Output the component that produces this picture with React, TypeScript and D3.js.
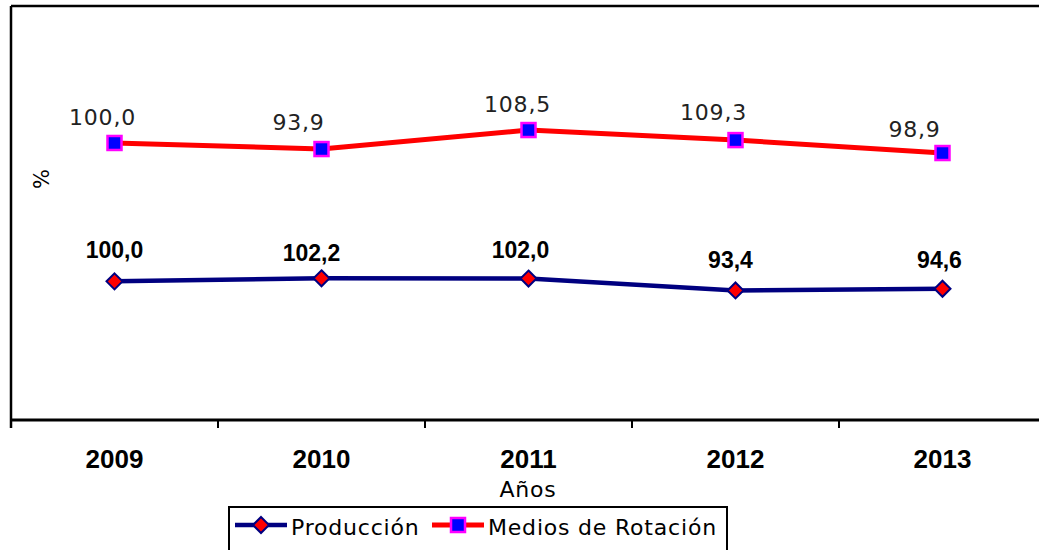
import React from "react";
import * as d3 from "d3";

const years = ["2009", "2010", "2011", "2012", "2013"];
const produccion = [100.0, 102.2, 102.0, 93.4, 94.6];
const medios = [100.0, 93.9, 108.5, 109.3, 98.9];
// the red series sits higher in the picture than its labels say; these are the heights it is drawn at
const mediosPlot = [200.5, 196.1, 209.9, 202.6, 193.2];

// hand nudges of the data labels, as in the original
const prodDx = [0, -10, -8, -5, -3];
const prodDy = [-23, -17, -21, -22, -21];
const medDx = [-12, -23, -11, -22, -28];
const medDy = [-18, -19, -18, -20, -16];

const fmt = (v: number) => v.toFixed(1).replace(".", ",");

const W = 1039;
const H = 550;
const SANS = "'DejaVu Sans', Verdana, sans-serif";
const ARIAL = "'Liberation Sans', Arial, sans-serif";

const Diamond = ({ cx, cy, r = 8 }: { cx: number; cy: number; r?: number }) => (
  <path
    d={`M${cx},${cy - r}L${cx + r},${cy}L${cx},${cy + r}L${cx - r},${cy}Z`}
    fill="#ff0000"
    stroke="#000080"
    strokeWidth={2}
  />
);

const Square = ({ cx, cy, s = 14 }: { cx: number; cy: number; s?: number }) => (
  <rect x={cx - s / 2} y={cy - s / 2} width={s} height={s} fill="#0000ff" stroke="#ff00ff" strokeWidth={2.5} />
);

const App = (): React.JSX.Element => {
  const left = 11;
  const top = 6;
  const bottom = 420;
  const x = d3.scaleBand<string>(years, [left, left + 5 * 207]).padding(0);
  const cx = (d: string) => (x(d) as number) + x.bandwidth() / 2;
  const y = d3.scaleLinear([0, 300], [bottom - 1, top]);

  const line = d3
    .line<number>()
    .x((_d, i) => cx(years[i]))
    .y((d) => y(d));

  const ticks = years.map((d) => x(d) as number).concat([(x(years[4]) as number) + x.bandwidth()]);

  return (
    <div style={{ position: "absolute", left: 0, top: 0 }}>
      <svg width={W} height={H} style={{ display: "block", background: "#fff" }}>
        {/* frame */}
        <line x1={left} x2={W} y1={top} y2={top} stroke="#000" strokeWidth={2.5} />
        <line x1={left} x2={left} y1={top} y2={bottom + 8} stroke="#000" strokeWidth={2.5} />
        <line x1={left} x2={W} y1={bottom} y2={bottom} stroke="#000" strokeWidth={3} />
        {ticks.map((t, i) => (
          <line key={i} x1={t} x2={t} y1={bottom} y2={bottom + 8} stroke="#000" strokeWidth={2} />
        ))}
        {years.map((d) => (
          <text key={d} x={cx(d)} y={468} textAnchor="middle" fontFamily={ARIAL} fontWeight="bold" fontSize={26}>
            {d}
          </text>
        ))}
        <text x={528} y={497} textAnchor="middle" fontFamily={SANS} fontSize={22} letterSpacing={0.8}>
          Años
        </text>
        <text
          transform="translate(49,179) rotate(-90)"
          textAnchor="middle"
          fontFamily={SANS}
          fontSize={21}
        >
          %
        </text>

        {/* Medios de Rotación */}
        <path d={line(mediosPlot) as string} fill="none" stroke="#ff0000" strokeWidth={5} />
        {mediosPlot.map((v, i) => (
          <Square key={i} cx={cx(years[i])} cy={y(v)} />
        ))}
        {medios.map((v, i) => (
          <text
            key={i}
            x={cx(years[i]) + medDx[i]}
            y={y(mediosPlot[i]) + medDy[i]}
            textAnchor="middle"
            fontFamily={SANS}
            fontSize={22}
            letterSpacing={0.8}
            fill="#222"
          >
            {fmt(v)}
          </text>
        ))}

        {/* Producción */}
        <path d={line(produccion) as string} fill="none" stroke="#000080" strokeWidth={4.5} />
        {produccion.map((v, i) => (
          <Diamond key={i} cx={cx(years[i])} cy={y(v)} />
        ))}
        {produccion.map((v, i) => (
          <text
            key={i}
            x={cx(years[i]) + prodDx[i]}
            y={y(v) + prodDy[i]}
            textAnchor="middle"
            fontFamily={ARIAL}
            fontWeight="bold"
            fontSize={23}
          >
            {fmt(v)}
          </text>
        ))}

        {/* legend */}
        <rect x={229} y={507} width={498} height={50} fill="#fff" stroke="#000" strokeWidth={2} />
        <line x1={235} x2={287} y1={525} y2={525} stroke="#000080" strokeWidth={4.5} />
        <Diamond cx={261} cy={525} />
        <text x={291} y={535} fontFamily={SANS} fontSize={22} letterSpacing={0.8}>
          Producción
        </text>
        <line x1={432} x2={484} y1={525} y2={525} stroke="#ff0000" strokeWidth={5} />
        <Square cx={458} cy={525} />
        <text x={488} y={535} fontFamily={SANS} fontSize={22} letterSpacing={0.8}>
          Medios de Rotación
        </text>
      </svg>
    </div>
  );
};

export default App;
